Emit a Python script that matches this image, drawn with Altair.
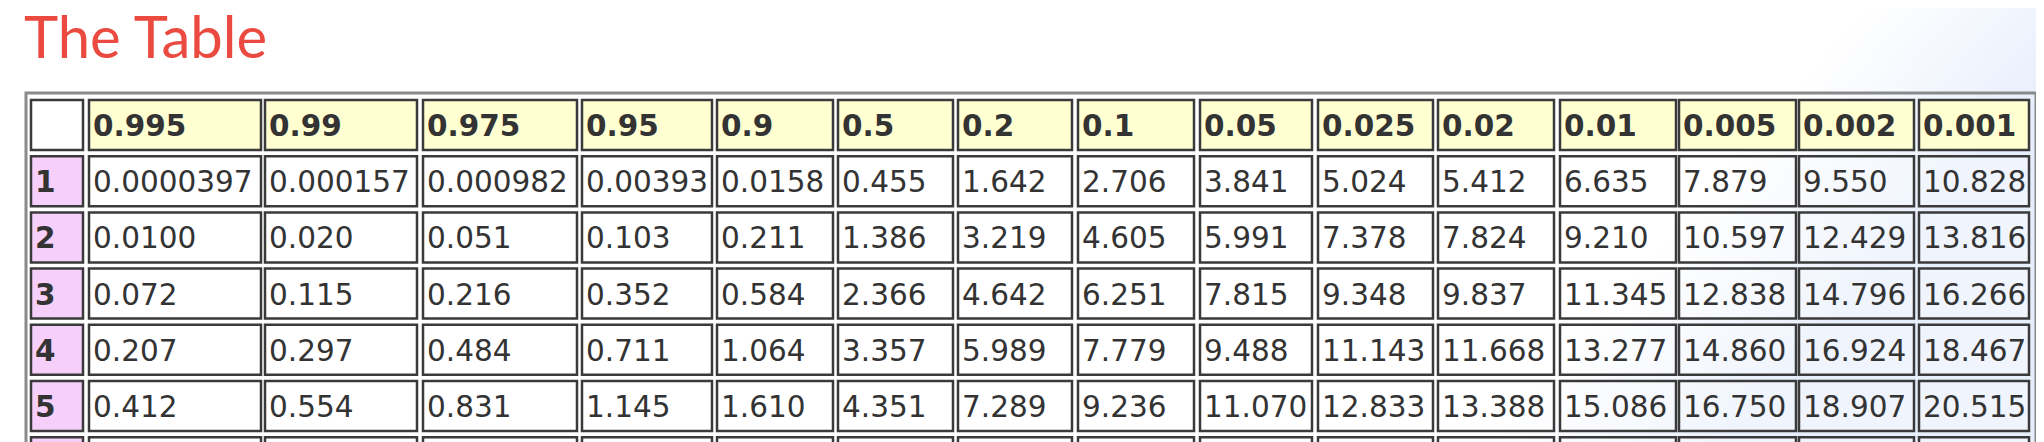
import altair as alt
import pandas as pd

# column headers (upper-tail probabilities) and table rows (degrees of freedom)
probs = ["0.995", "0.99", "0.975", "0.95", "0.9", "0.5", "0.2", "0.1",
         "0.05", "0.025", "0.02", "0.01", "0.005", "0.002", "0.001"]
dfs = ["1", "2", "3", "4", "5", ""]
row1 = ["0.0000397", "0.000157", "0.000982", "0.00393", "0.0158", "0.455", "1.642", "2.706",
        "3.841", "5.024", "5.412", "6.635", "7.879", "9.550", "10.828"]
row2 = ["0.0100", "0.020", "0.051", "0.103", "0.211", "1.386", "3.219", "4.605",
        "5.991", "7.378", "7.824", "9.210", "10.597", "12.429", "13.816"]
row3 = ["0.072", "0.115", "0.216", "0.352", "0.584", "2.366", "4.642", "6.251",
        "7.815", "9.348", "9.837", "11.345", "12.838", "14.796", "16.266"]
row4 = ["0.207", "0.297", "0.484", "0.711", "1.064", "3.357", "5.989", "7.779",
        "9.488", "11.143", "11.668", "13.277", "14.860", "16.924", "18.467"]
row5 = ["0.412", "0.554", "0.831", "1.145", "1.610", "4.351", "7.289", "9.236",
        "11.070", "12.833", "13.388", "15.086", "16.750", "18.907", "20.515"]
row6 = [""] * 15  # row cut off at the bottom edge, only its borders show
rows = [row1, row2, row3, row4, row5, row6]

# layout (page pixels)
W, H = 2028, 470
col_left = [31, 89, 265, 423, 582, 717, 838, 958, 1078, 1200, 1318, 1438, 1560, 1679, 1799, 1919]
col_right = [83, 261, 417, 577, 712, 833, 953, 1072, 1194, 1312, 1433, 1554, 1676, 1796, 1914, 2029]
row_top0, row_pitch, cell_h = 100, 56.2, 50

recs = []
for r in range(len(dfs) + 1):
    top = row_top0 + r * row_pitch
    for c in range(len(probs) + 1):
        if r == 0:
            label = "" if c == 0 else probs[c - 1]
            kind = "corner" if c == 0 else "head"
        else:
            label = dfs[r - 1] if c == 0 else rows[r - 1][c - 1]
            kind = "df" if c == 0 else "cell"
        recs.append(dict(x0=col_left[c], x1=col_right[c], y0=top, y1=top + cell_h,
                         tx=col_left[c] + 4, ty=top + cell_h / 2 + 2, label=label, kind=kind,
                         bold=kind in ("head", "df")))
cells = pd.DataFrame(recs)

xs = alt.Scale(domain=[8, 8 + W], nice=False, zero=False)
ys = alt.Scale(domain=[8, 8 + H], nice=False, zero=False, reverse=True)

bg = alt.Chart(pd.DataFrame({"a": [8], "b": [8 + W], "c": [8], "d": [8 + H]})).mark_rect(
    fill=alt.Gradient(gradient="linear", x1=0, x2=1, y1=0, y2=0.2,
                      stops=[alt.GradientStop(offset=0, color="#ffffff"),
                             alt.GradientStop(offset=0.88, color="#ffffff"),
                             alt.GradientStop(offset=1, color="#e8effc")])
).encode(x=alt.X("a:Q", scale=xs, axis=None), x2="b:Q",
         y=alt.Y("c:Q", scale=ys, axis=None), y2="d:Q")

outer = alt.Chart(pd.DataFrame({"a": [26], "b": [2036], "c": [93], "d": [8 + H + 20]})).mark_rect(
    fillOpacity=0, stroke="#8a8a8a", strokeWidth=3
).encode(x=alt.X("a:Q", scale=xs, axis=None), x2="b:Q",
         y=alt.Y("c:Q", scale=ys, axis=None), y2="d:Q")

fill_map = alt.Color("kind:N", scale=alt.Scale(
    domain=["corner", "head", "df", "cell"],
    range=["#ffffff", "#ffffd2", "#f6d0fb", "rgba(255,255,255,0.3)"]), legend=None)

boxes = alt.Chart(cells).mark_rect(stroke="#3a3a3a", strokeWidth=2.5).encode(
    x=alt.X("x0:Q", scale=xs, axis=None), x2="x1:Q",
    y=alt.Y("y0:Q", scale=ys, axis=None), y2="y1:Q",
    fill=fill_map,
)

txt_plain = alt.Chart(cells).transform_filter("!datum.bold").mark_text(
    align="left", baseline="middle", font="DejaVu Sans", fontSize=29.5, color="#333333"
).encode(x=alt.X("tx:Q", scale=xs, axis=None), y=alt.Y("ty:Q", scale=ys, axis=None), text="label:N")

txt_bold = alt.Chart(cells).transform_filter("datum.bold").mark_text(
    align="left", baseline="middle", font="DejaVu Sans", fontSize=29.5, fontWeight="bold", color="#333333"
).encode(x=alt.X("tx:Q", scale=xs, axis=None), y=alt.Y("ty:Q", scale=ys, axis=None), text="label:N")

title = alt.Chart(pd.DataFrame({"t": ["The Table"], "x": [24], "y": [58]})).mark_text(
    align="left", baseline="alphabetic", font="Lato", fontSize=58, color="#ea4a3f"
).encode(x=alt.X("x:Q", scale=xs, axis=None), y=alt.Y("y:Q", scale=ys, axis=None), text="t:N")

chart = (bg + outer + boxes + txt_plain + txt_bold + title).properties(
    width=W, height=H, padding=0, autosize=alt.AutoSizeParams(type="none")
).configure_view(stroke=None)

chart.save("out.html", embed_options={"renderer": "svg", "actions": False})
